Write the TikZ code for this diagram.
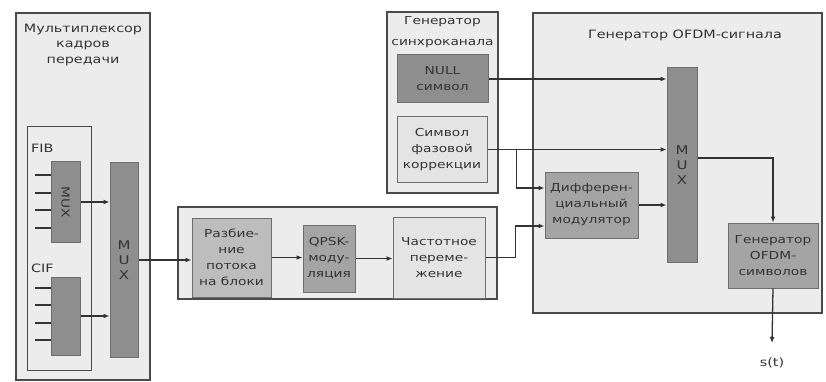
\documentclass[tikz,border=0pt]{standalone}
\usepackage{fontspec}
\setmainfont{DejaVu Sans}[FakeStretch=1.25]
\usetikzlibrary{arrows.meta}
\definecolor{frame}{HTML}{4A4A4A}
\definecolor{bgbox}{HTML}{ECECEC}
\definecolor{darkbox}{HTML}{8E8E8E}
\definecolor{midbox}{HTML}{A4A4A4}
\definecolor{lightbox}{HTML}{BDBDBD}
\definecolor{palebox}{HTML}{E4E4E4}
\definecolor{txt}{HTML}{333333}
\tikzset{
  outerbox/.style={draw=frame, line width=1.2pt, fill=bgbox, inner sep=0pt},
  blk/.style={draw=frame!80, line width=1pt, inner sep=0pt, align=center, text=txt, font=\fontsize{11}{16}\selectfont},
  arr/.style={draw=black!80, line width=1.3pt, -{Latex[length=6pt,width=5pt]}},
  ln/.style={draw=black!80, line width=1.3pt},
  lbl/.style={text=txt, align=center, inner sep=0pt, font=\fontsize{11.5}{15.5}\selectfont}
}
\begin{document}
\begin{tikzpicture}[x=1pt,y=-1pt]
\useasboundingbox (0,0) rectangle (826,382);
% outer frames
\node[outerbox, minimum width=134, minimum height=367] (mfr) at (83,196.5) {};
\node[draw=frame, line width=1pt, minimum width=64, minimum height=243, inner sep=0pt] (inner) at (59,248.5) {};
\node[outerbox, minimum width=319, minimum height=92] (mid) at (337.5,253) {};
\node[outerbox, minimum width=111, minimum height=181] (sync) at (442.5,102.5) {};
\node[outerbox, minimum width=289, minimum height=300] (ofdm) at (677.5,163) {};
% titles
\node[lbl] (tmfr) at (83,45) {Мультиплексор\\кадров\\передачи};
\node[lbl, font=\fontsize{11}{21}\selectfont] (tsync) at (442.5,32) {Генератор\\синхроканала};
\node[lbl] (tofdm) at (685,35) {Генератор OFDM-сигнала};
\node[lbl, anchor=west] (tfib) at (31,148) {FIB};
\node[lbl, anchor=west] (tcif) at (31,268) {CIF};
% left blocks
\node[blk, fill=darkbox, minimum width=29, minimum height=80] (fibmux) at (65.5,202) {\rotatebox{-90}{MUX}};
\node[blk, fill=darkbox, minimum width=29, minimum height=78] (cifmux) at (65.5,316) {};
\node[blk, fill=darkbox, minimum width=28, minimum height=194, font=\fontsize{12}{15}\selectfont] (bigmux) at (124,260) {M\\U\\X};
% middle
\node[blk, fill=lightbox, minimum width=79, minimum height=79] (split) at (231.5,257.5) {Разбие-\\ние\\потока\\на блоки};
\node[blk, fill=midbox, minimum width=52, minimum height=67] (qpsk) at (329,258.5) {QPSK-\\моду-\\ляция};
\node[blk, fill=palebox, minimum width=92, minimum height=81] (freq) at (439,257.5) {Частотное\\переме-\\жение};
% sync generator
\node[blk, fill=darkbox, minimum width=91, minimum height=48] (null) at (442.5,79) {NULL\\символ};
\node[blk, fill=palebox, minimum width=90, minimum height=65] (phase) at (442,149.5) {Символ\\фазовой\\коррекции};
% OFDM generator
\node[blk, fill=midbox, minimum width=93, minimum height=66] (diff) at (591.5,205) {Дифферен-\\циальный\\модулятор};
\node[blk, fill=darkbox, minimum width=30, minimum height=194, font=\fontsize{12}{15}\selectfont] (omux) at (682,165) {M\\U\\X};
\node[blk, fill=midbox, minimum width=90, minimum height=65] (osym) at (773,255.5) {Генератор\\OFDM-\\символов};
\node[lbl] (st) at (772,363) {s(t)};
\coordinate (stend) at (772,343);
% FIB / CIF inputs
\foreach \yy in {175,193,210,228} \draw[ln] (fibmux.west |- 0,\yy) -- ++(-16,0);
\foreach \yy in {288,305,323,340} \draw[ln] (cifmux.west |- 0,\yy) -- ++(-16,0);
\draw[arr] (fibmux.east) -- (fibmux.east -| bigmux.west);
\draw[arr] (cifmux.east) -- (cifmux.east -| bigmux.west);
\draw[arr] (bigmux.east) -- (bigmux.east -| split.west);
\draw[arr] (split.east) -- (split.east -| qpsk.west);
\draw[arr] (qpsk.east) -- (qpsk.east -| freq.west);
\draw[arr] (freq.east) -- ++(30,0) |- ([yshift=-21pt]diff.west);
\draw[arr] (null.east) -- (null.east -| omux.west);
\draw[arr] (phase.east) -- (phase.east -| omux.west);
\draw[arr] ([xshift=29pt]phase.east) |- ([yshift=17pt]diff.west);
\draw[arr] (diff.east) -- (diff.east -| omux.west);
\draw[arr] ([yshift=7pt]omux.east) -| (osym.north);
\draw[arr] (osym.south) -- (stend);
\end{tikzpicture}
\end{document}
